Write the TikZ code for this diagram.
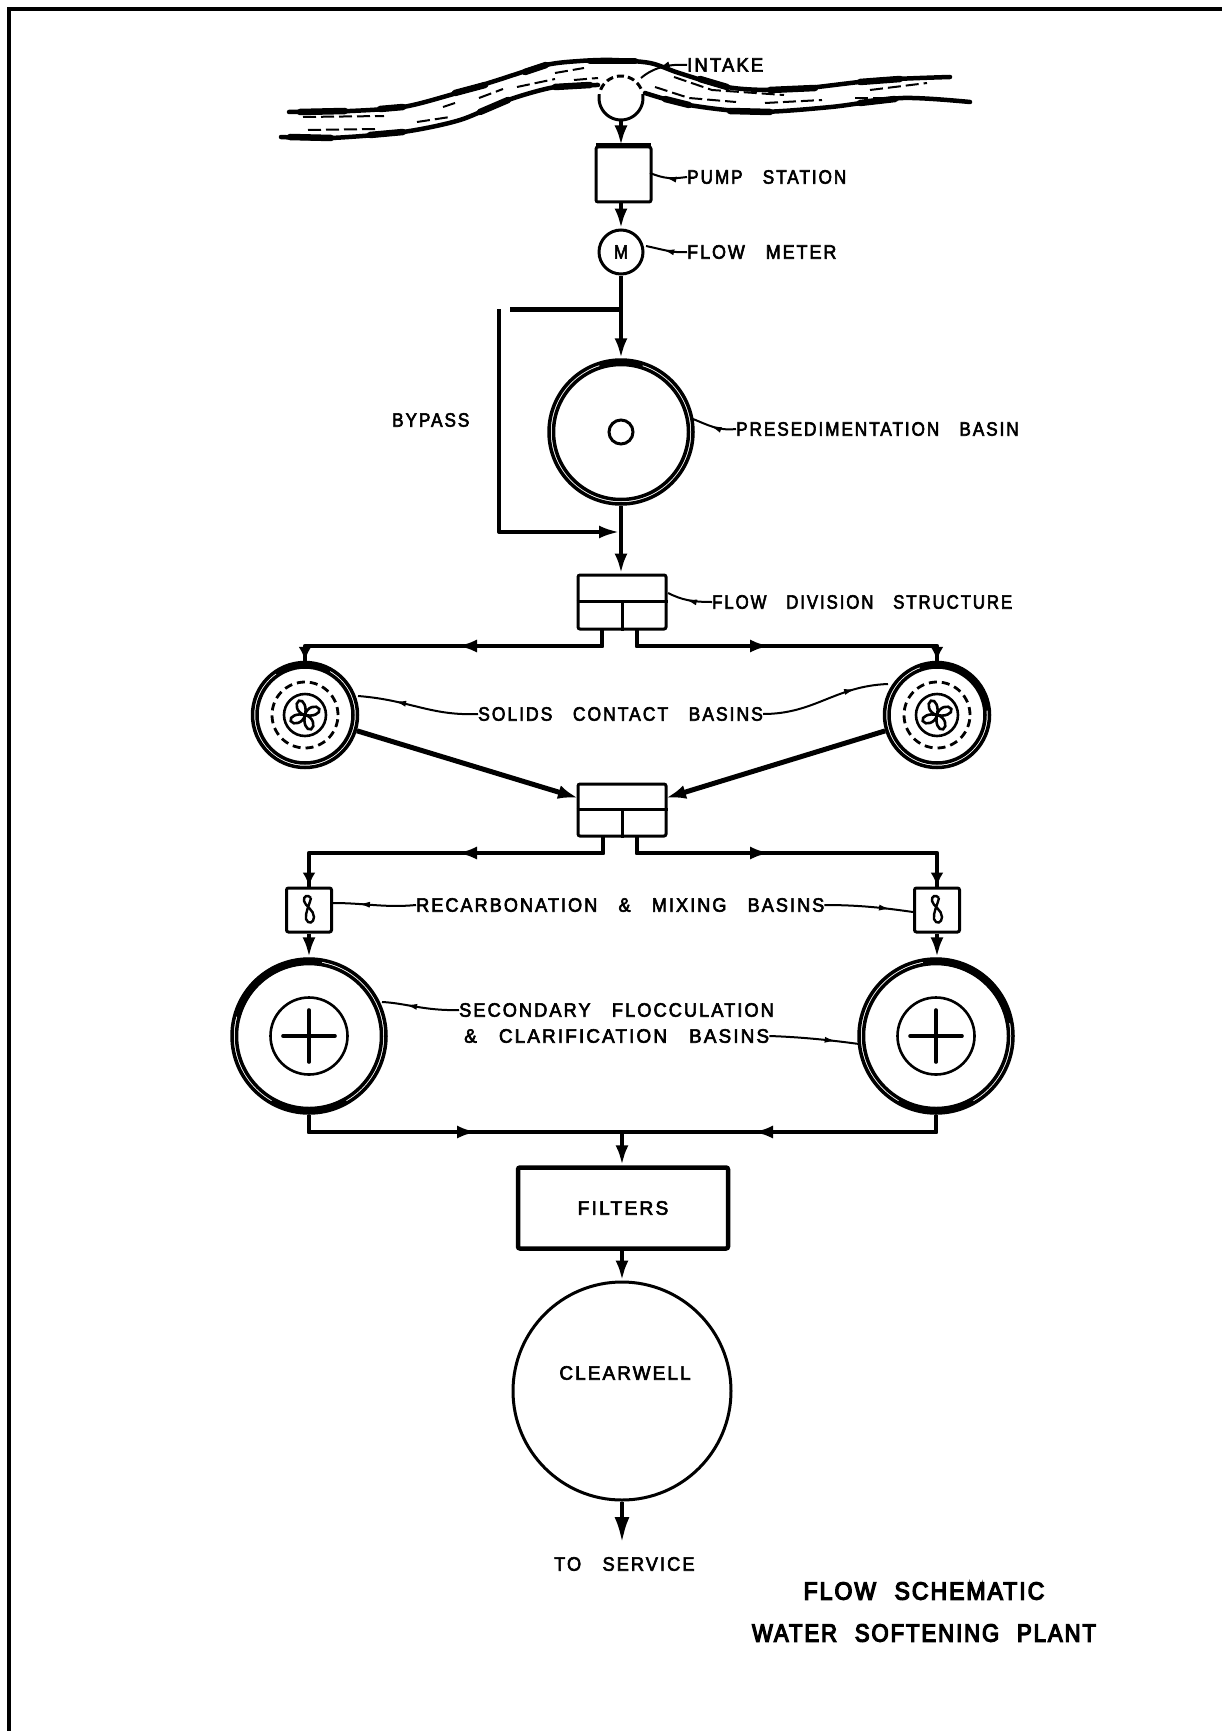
\documentclass[tikz,border=0pt]{standalone}
\usepackage{fontspec}
\usepackage{graphicx}
\usetikzlibrary{arrows.meta,decorations.markings,calc}
\newfontfamily\lblfam[LetterSpace=10,WordSpace=3,FakeStretch=.88,FakeBold=3]{Liberation Sans}
\newfontfamily\ttlfam[LetterSpace=8,WordSpace=2.2,FakeStretch=.88,FakeBold=5]{Liberation Sans}
\newcommand{\sx}[2]{\scalebox{#1}[1]{#2}}
\tikzset{
  pipe/.style={line width=4.3pt,line join=round},
  hflow/.style={pipe,-{Latex[length=20pt,width=13pt]}},
  vflow/.style={pipe,-{Latex[length=20pt,width=13pt]}},
  shortflow/.style={pipe,-{Latex[length=14pt,width=13pt]}},
  thinflow/.style={line width=3.4pt,-{Latex[length=20pt,width=13pt]}},
  box/.style={draw,line width=3pt,rectangle,rounded corners=2pt,inner sep=0pt},
  ring/.style={draw,line width=3.5pt,circle,inner sep=0pt},
  thinring/.style={draw,line width=2.6pt,circle,inner sep=0pt},
  lbl/.style={font=\lblfam\fontsize{19.5}{20}\selectfont,anchor=west,inner sep=0pt},
  lblc/.style={font=\lblfam\fontsize{19.5}{20}\selectfont,inner sep=0pt},
  ttl/.style={font=\ttlfam\fontsize{25}{26}\selectfont,inner sep=0pt},
  leader/.style={line width=2pt,postaction={decorate},
    decoration={markings,mark=at position #1 with {\arrow{Latex[length=12pt,width=6pt]}}}},
  leader/.default=0.7,
  bank/.style={line width=4.5pt,line cap=round},
  blot/.style={line width=6.5pt,line cap=round},
  ripple/.style={line width=2pt,dash pattern=on 13pt off 5pt},
  prop/.pic={
    \foreach \a in {8,98,188,278}{
      \draw[line width=2.6pt,rotate=\a] (0,0) .. controls (3,-8) and (13,-9) .. (15,-4) .. controls (16,1) and (7,3) .. (0,0);
    }
  },
  mixglyph/.pic={
    \draw[line width=2.4pt] (2,-12) .. controls (-1,-16) and (-6,-14) .. (-5,-9) .. controls (-4,-4) and (5,0) .. (5,7) .. controls (5,13) and (-1,15) .. (-3,9) .. controls (-4,3) and (0,-4) .. (2,-12);
  }
}
\begin{document}
\begin{tikzpicture}[x=1pt,y=-1pt]
\useasboundingbox (0,0) rectangle (1222,1731);
\fill[white] (0,0) rectangle (1222,1731);
% frame: top and left rules only
\draw[line width=4pt] (9,1731) -- (9,9) -- (1222,9);

% river
\draw[bank] plot[smooth] coordinates {(289,112) (350,111) (403,107) (450,95) (498,80) (546,65) (580,61) (612,60) (650,63) (679,73) (727,87) (768,90) (808,88) (879,80) (950,77)};
\draw[bank] plot[smooth] coordinates {(281,137) (331,138) (403,132) (460,120) (508,100) (555,87) (598,85)};
\draw[bank] plot[smooth] coordinates {(645,93) (689,105) (755,112) (831,107) (903,98) (970,102)};
\draw[blot] (300,112) -- (345,111);
\draw[blot] (380,109) -- (403,107);
\draw[blot] (455,93) -- (485,85);
\draw[blot] (525,72) -- (546,65);
\draw[blot] (590,61) -- (635,61);
\draw[blot] (700,79) -- (727,87);
\draw[blot] (770,90) -- (815,88);
\draw[blot] (860,82) -- (900,79);
\draw[blot] (290,137) -- (331,138);
\draw[blot] (370,135) -- (403,132);
\draw[blot] (480,112) -- (508,100);
\draw[blot] (555,87) -- (590,85);
\draw[blot] (665,99) -- (689,105);
\draw[blot] (730,111) -- (770,112);
\draw[blot] (860,103) -- (895,99);
\draw[ripple] (303,117) -- (384,116);
\draw[ripple] (308,130) -- (379,129);
\draw[ripple] (417,122) -- (450,117);
\draw[ripple] (443,107) -- (455,103);
\draw[ripple] (479,98) -- (503,89);
\draw[ripple] (517,87) -- (555,79);
\draw[ripple] (555,73) -- (584,68);
\draw[ripple] (574,80) -- (598,78);
\draw[ripple] (655,87) -- (689,98) -- (736,102);
\draw[ripple] (674,77) -- (712,90) -- (784,95);
\draw[ripple] (765,103) -- (822,100);
\draw[ripple] (870,90) -- (927,83);
\draw[ripple] (855,98) -- (893,98);

% intake and upper train
\node[circle,minimum size=44pt,inner sep=0pt] (intake) at (621,98) {};
\draw[line width=3pt] plot[smooth,domain=-190:10,samples=30] ({621+22*cos(\x)},{98-22*sin(\x)});
\draw[line width=3pt,dash pattern=on 7pt off 4pt] plot[smooth,domain=25:165,samples=20] ({621+22*cos(\x)},{98-22*sin(\x)});
\node[box,minimum width=55pt,minimum height=55pt] (pump) at (623.5,174.5) {};
\draw[line width=4.5pt] ([xshift=1.5pt]pump.north west) -- ([xshift=-1.5pt]pump.north east);
\node[ring,line width=3pt,minimum size=44pt,font=\lblfam\fontsize{19}{19}\selectfont] (meter) at (621,252) {M};

% presedimentation
\node[ring,minimum size=144pt] (pre) at (621,432) {};
\node[ring,minimum size=135pt] (prein) at (621,432) {};
\node[ring,line width=3pt,minimum size=24pt] (predot) at (621,432) {};
\draw[line width=5.5pt] plot[smooth,domain=72:108,samples=9] ({621+69.5*cos(\x)},{432-69.5*sin(\x)});

% flow division structures
\node[box,minimum width=88pt,minimum height=54pt] (fda) at (622,602) {};
\node[box,minimum width=88pt,minimum height=52pt] (fdb) at (622,810) {};
\coordinate (fdam) at (622,601);
\coordinate (fdbm) at (622,809);
\draw[line width=3pt] (fda.west |- fdam) -- (fda.east |- fdam);
\draw[line width=3pt] (fdam) -- (fda.south);
\draw[line width=3pt] (fdb.west |- fdbm) -- (fdb.east |- fdbm);
\draw[line width=3pt] (fdbm) -- (fdb.south);

% solids contact basins
\foreach \n/\cx in {sca/305,scb/937}{
  \node[ring,minimum size=105pt] (\n) at (\cx,715) {};
  \node[ring,minimum size=96pt] (\n in) at (\cx,715) {};
  \node[draw,circle,line width=2.8pt,dash pattern=on 8pt off 5pt,minimum size=66pt,inner sep=0pt] (\n dash) at (\cx,715) {};
  \node[thinring,minimum size=42pt] (\n hub) at (\cx,715) {};
  \pic at (\cx,715) {prop};
}
\draw[line width=5pt] plot[smooth,domain=60:125,samples=12] ({305+50*cos(\x)},{715-50*sin(\x)});
\draw[line width=6pt] plot[smooth,domain=5:110,samples=16] ({937+50*cos(\x)},{715-50*sin(\x)});

% mixers
\foreach \n/\cx in {mxa/309,mxb/937}{
  \node[box,minimum width=45pt,minimum height=44pt] (\n) at (\cx,910) {};
  \pic at (\cx,910) {mixglyph};
}

% secondary basins
\foreach \n/\cx in {sea/309,seb/936}{
  \node[ring,minimum size=154pt] (\n) at (\cx,1036) {};
  \node[ring,minimum size=145pt] (\n in) at (\cx,1036) {};
  \node[thinring,minimum size=77pt] (\n hub) at (\cx,1036) {};
  \draw[line width=3.6pt,line cap=round] ([xshift=-26pt]\n hub.center) -- ([xshift=26pt]\n hub.center);
  \draw[line width=3.6pt,line cap=round] ([yshift=-26pt]\n hub.center) -- ([yshift=26pt]\n hub.center);
  \draw[line width=6.5pt] plot[smooth,domain=-120:-60,samples=9] ({\cx+74.7*cos(\x)},{1036-74.7*sin(\x)});
}
\draw[line width=7pt] plot[smooth,domain=80:165,samples=16] ({309+74.7*cos(\x)},{1036-74.7*sin(\x)});
\draw[line width=7pt] plot[smooth,domain=10:100,samples=16] ({936+74.7*cos(\x)},{1036-74.7*sin(\x)});

% filters and clearwell
\node[box,line width=4.5pt,minimum width=210pt,minimum height=81pt,font=\lblfam\fontsize{19.5}{20}\selectfont] (filters) at (623,1208) {\sx{1.12}{FILTERS}};
\node[ring,line width=3pt,minimum size=218pt] (clear) at (622,1391) {};
\node[lblc] (clearlbl) at (625,1373) {\sx{1.1}{CLEARWELL}};

% coordinates for connectors
\coordinate (byj) at (621,309);
\coordinate (bye) at (510,309);
\coordinate (byt) at (499,309);
\coordinate (byb) at (499,532);
\coordinate (byh) at (619,532);
\coordinate (fdaL) at (602,629);
\coordinate (fdaR) at (637,629);
\coordinate (fdbL) at (603,836);
\coordinate (fdbR) at (637,836);
\coordinate (tipa) at (457,646);
\coordinate (tipb) at (770,646);
\coordinate (tipc) at (457,853);
\coordinate (tipd) at (770,853);
\coordinate (fdbwest) at (578,798);
\coordinate (fdbeast) at (666,798);
\coordinate (tipe) at (477,1132);
\coordinate (tipf) at (753,1132);
\coordinate (colj) at (622,1132);
\coordinate (svc) at (622,1543);

% main connectors
\draw[vflow] (intake.south) -- (intake.south |- pump.north);
\draw[vflow] (meter.north |- pump.south) -- (meter.north);
\draw[vflow] (meter.south) -- (pre.north);
\draw[vflow] (pre.south) -- (pre.south |- fda.north);
\draw[line width=5pt] (bye) -- (byj);
\draw[thinflow,line join=round] (byt) -- (byb) -- (byh);

\draw[pipe] (fdaL) |- (tipa) -| (sca.north);
\draw[hflow] (fdaL) |- (tipa);
\draw[shortflow] ([yshift=15pt]sca.north) -- (sca.north);
\draw[pipe] (fdaR) |- (tipb) -| (scb.north);
\draw[hflow] (fdaR) |- (tipb);
\draw[shortflow] ([yshift=15pt]scb.north) -- (scb.north);

\draw[pipe,line width=5pt,-{Latex[length=20pt,width=14pt]}] (sca) -- (fdbwest);
\draw[pipe,line width=5pt,-{Latex[length=20pt,width=14pt]}] (scb) -- (fdbeast);

\draw[pipe] (fdbL) |- (tipc) -| (mxa.north);
\draw[hflow] (fdbL) |- (tipc);
\draw[shortflow] ([yshift=15pt]mxa.north) -- (mxa.north);
\draw[pipe] (fdbR) |- (tipd) -| (mxb.north);
\draw[hflow] (fdbR) |- (tipd);
\draw[shortflow] ([yshift=15pt]mxb.north) -- (mxb.north);

\draw[vflow] (mxa.south) -- (sea.north);
\draw[vflow] (mxb.south) -- (mxb.south |- seb.north);

\draw[pipe] (sea.south) |- (seb.south |- colj) -- (seb.south);
\draw[hflow] (sea.south) |- (tipe);
\draw[hflow] (seb.south) |- (tipf);
\draw[vflow] (colj) -- (colj |- filters.north);
\draw[vflow] (colj |- filters.south) -- (clear.north);
\draw[pipe,-{Latex[length=26pt,width=15pt]}] (clear.south) -- (svc);

% labels
\node[lbl] (lintake) at (687,65) {\sx{1.08}{INTAKE}};
\node[lbl] (lpump) at (687,177) {PUMP STATION};
\node[lbl] (lmeter) at (687,252) {\sx{1.04}{FLOW METER}};
\node[lbl] (lbypass) at (392,420) {BYPASS};
\node[lbl] (lpre) at (736,429) {PRESEDIMENTATION BASIN};
\node[lbl] (lfd) at (712,602) {\sx{.98}{FLOW DIVISION STRUCTURE}};
\node[lbl] (lsc) at (478,714) {\sx{1.02}{SOLIDS CONTACT BASINS}};
\node[lbl] (lmx) at (416,905) {\sx{1.054}{RECARBONATION \& MIXING BASINS}};
\node[lbl] (lse) at (459,1010) {\sx{1.06}{SECONDARY FLOCCULATION}};
\node[lbl] (lsf) at (464,1036) {\sx{1.1}{\& CLARIFICATION BASINS}};
\node[lbl] (lsvc) at (554,1564) {\sx{1.06}{TO SERVICE}};
\node[ttl] (lta) at (924,1591) {\sx{1.04}{FLOW SCHEMATIC}};
\node[ttl] (ltb) at (924,1633) {WATER SOFTENING PLANT};

% leaders
\coordinate (aintake) at (641,78);
\coordinate (apump) at (650,173);
\coordinate (ameter) at (646,246);
\coordinate (apre) at (693,419);
\coordinate (afd) at (668,593);
\coordinate (asca) at (358,696);
\coordinate (ascb) at (888,684);
\coordinate (amxa) at (333,903);
\coordinate (amxb) at (913,912);
\coordinate (asea) at (382,1002);
\coordinate (aseb) at (859,1044);
\draw[leader=0.6] (lintake.west) .. controls (672,64) and (655,66) .. (aintake);
\draw[leader=0.6] (lpump.west) .. controls (672,179) and (665,179) .. (apump);
\draw[leader=0.6] (lmeter.west) .. controls (672,253) and (665,250) .. (ameter);
\draw[leader=0.6] (lpre.west) .. controls (718,431) and (708,425) .. (apre);
\draw[leader=0.6] (lfd.west) .. controls (692,602) and (682,600) .. (afd);
\draw[leader=0.7] (lsc.west) .. controls (430,716) and (410,700) .. (asca);
\draw[leader=0.75] (lsc.east) .. controls (815,714) and (835,686) .. (ascb);
\draw[leader=0.7] (lmx.west) .. controls (385,908) and (365,903) .. (amxa);
\draw[leader=0.75] (lmx.east) .. controls (860,905) and (885,908) .. (amxb);
\draw[leader=0.7] (lse.west) .. controls (425,1011) and (405,1003) .. (asea);
\draw[leader=0.75] (lsf.east) .. controls (800,1037) and (830,1040) .. (aseb);
\end{tikzpicture}
\end{document}
